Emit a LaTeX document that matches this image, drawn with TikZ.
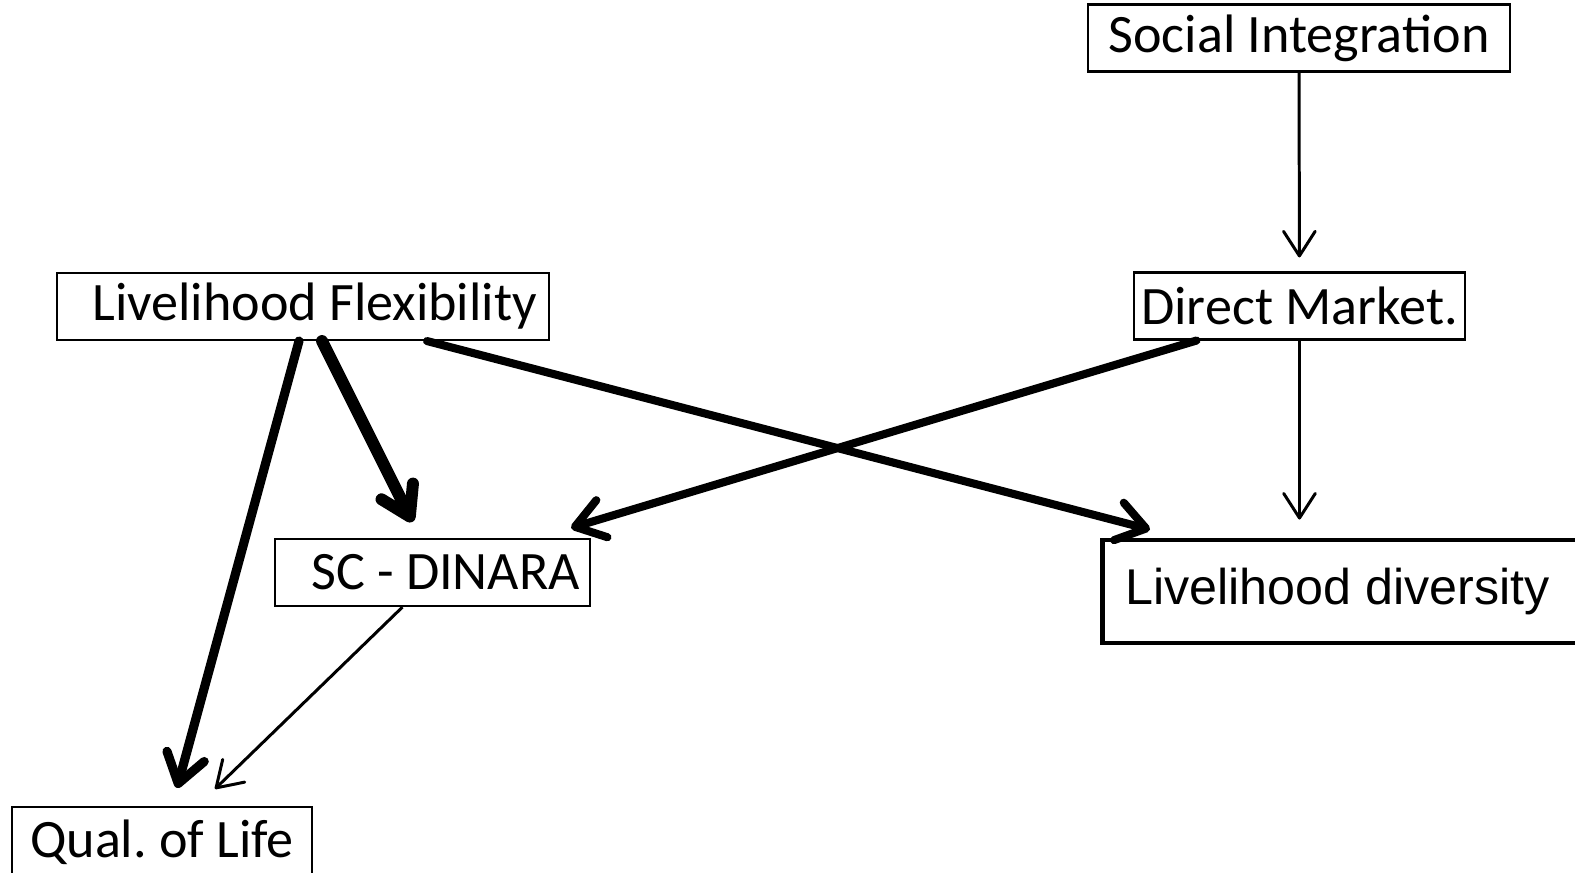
\documentclass[tikz,border=0pt]{standalone}
\usepackage{fontspec}
\setmainfont{Carlito}
\newfontfamily\arialfont{Liberation Sans}
\usetikzlibrary{arrows.meta}
\frenchspacing

\begin{document}
\begin{tikzpicture}[font=\fontsize{15.4}{18}\selectfont,
    box/.style={draw, line width=0.6pt, minimum height=0.67cm, inner sep=0pt,
                align=center},
    weak/.style={-{Straight Barb[length=7pt,width=9pt,round]}, line width=0.85pt},
    strong/.style={-{Straight Barb[length=8pt,width=11pt,round]}, line width=2.3pt,
                   line cap=round},
    strongest/.style={-{Straight Barb[length=8pt,width=10pt,round]}, line width=3.4pt,
                      line cap=round}]
  \useasboundingbox (0,-8.73) rectangle (15.75,0);
  \clip (0,-8.73) rectangle (15.75,0);
  %% Boxes
  \node[box, minimum width=4.22cm] (si) at (12.99,-0.38) {Social Integration};
  \node[box, minimum width=3.31cm] (dm) at (12.995,-3.06) {Direct Market.};
  \node[box, text width=4.68cm, inner xsep=0.12cm, align=flush right] (lf) at (3.03,-3.065)
    {Livelihood Flexibility};
  \node[box, text width=2.95cm, inner xsep=0.1cm, align=flush right] (sc) at (4.325,-5.725)
    {SC - DINARA};
  \node[box, line width=1.4pt, minimum height=1.03cm, text width=4.6cm,
        inner xsep=0.23cm, align=flush left, anchor=west,
        font=\arialfont\fontsize{14.3}{17}\selectfont] (ld) at (11.00,-5.915)
    {Livelihood diversity};
  \node[box, minimum width=3.0cm, minimum height=0.70cm] (qol) at (1.62,-8.42)
    {Qual. of Life};
  %% Arrows
  \draw[weak, shorten >=0.14cm] (si) -- (dm);
  \draw[weak, shorten >=0.18cm] (dm.south) -- (dm.south |- ld.north);
  \draw[strong] ([xshift=-1.03cm]dm.south) -- ([xshift=-0.2cm,yshift=0.1cm]sc.north east);
  \draw[strong] ([xshift=1.24cm]lf.south) -- ([xshift=0.5cm,yshift=0.08cm]ld.north west);
  \draw[strongest] ([xshift=0.19cm]lf.south) -- ([xshift=-0.2cm,yshift=0.16cm]sc.north);
  \draw[strong, line width=2.6pt] ([xshift=-0.04cm]lf.south)
    -- ([xshift=0.15cm,yshift=0.18cm]qol.north);
  \draw[weak] ([xshift=-0.3cm]sc.south) -- ([xshift=0.53cm,yshift=0.17cm]qol.north);
\end{tikzpicture}
\end{document}
